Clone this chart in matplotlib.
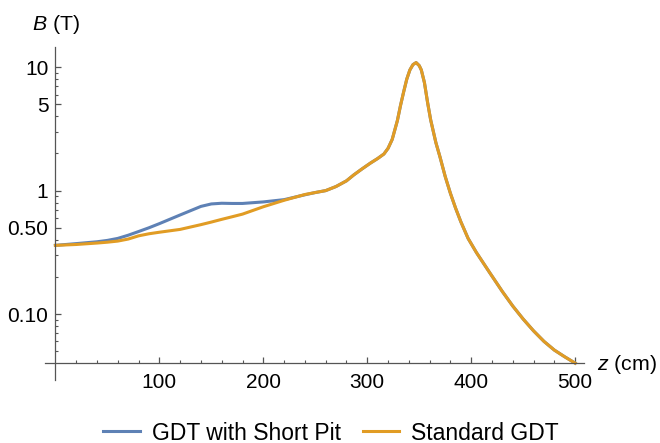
import matplotlib.pyplot as plt
import matplotlib.ticker as mticker

plt.rcParams['font.family'] = ['Liberation Sans', 'DejaVu Sans']
plt.rcParams['mathtext.fontset'] = 'custom'
plt.rcParams['mathtext.rm'] = 'Liberation Sans'
plt.rcParams['mathtext.it'] = 'Liberation Sans:italic'

# low-field part, differs between the two configurations
z_low = [0, 20, 40, 50, 60, 70, 80, 90, 100, 120, 140, 150, 160, 170, 180, 200, 220, 240]
b_pit_low = [0.36, 0.372, 0.385, 0.395, 0.41, 0.435, 0.466, 0.50, 0.54, 0.635, 0.745, 0.78, 0.79,
             0.787, 0.787, 0.81, 0.845, 0.925]
b_std_low = [0.36, 0.366, 0.376, 0.382, 0.39, 0.405, 0.43, 0.447, 0.46, 0.485, 0.53, 0.556, 0.585,
             0.614, 0.645, 0.74, 0.835, 0.93]

# common part (mirror peak and expander)
z_tail = [250, 260, 270, 280, 287, 295, 303, 310, 316, 320, 324, 329, 332, 335, 338, 341, 344,
          347, 350, 352, 355, 358, 361, 366, 370, 375, 380, 385, 390, 397, 405, 418, 430,
          440, 450, 460, 470, 480, 490, 500]
b_tail = [0.965, 1.0, 1.08, 1.2, 1.34, 1.5, 1.67, 1.82, 1.98, 2.2, 2.6, 3.7, 4.9, 6.3, 8.0, 9.5, 10.5,
          10.9, 10.3, 9.5, 7.5, 5.2, 3.74, 2.45, 1.87, 1.3, 0.95, 0.72, 0.56, 0.41, 0.315, 0.215, 0.152,
          0.116, 0.091, 0.073, 0.060, 0.051, 0.045, 0.040]

z_all = z_low + z_tail
b_pit = b_pit_low + b_tail
b_std = b_std_low + b_tail

fig = plt.figure(figsize=(6.6, 4.43), dpi=100)
ax = fig.add_axes([45/660, 1 - 380/443, 539/660, 332.7/443])

ax.plot(z_all, b_pit, color='#5E81B5', lw=2.2, label='GDT with Short Pit')
ax.plot(z_all, b_std, color='#E19C24', lw=2.2, label='Standard GDT')

ax.set_yscale('log')
ax.set_xlim(-10, 508.5)
ax.set_ylim(0.0292, 14.5)

ax.spines['top'].set_visible(False)
ax.spines['right'].set_visible(False)
ax.spines['left'].set_position(('data', 0))
ax.spines['bottom'].set_position(('data', 0.04))
for s in ['left', 'bottom']:
    ax.spines[s].set_color('#555555')
    ax.spines[s].set_linewidth(0.9)

ax.set_xticks([100, 200, 300, 400, 500])
ax.xaxis.set_minor_locator(mticker.FixedLocator([v for v in range(20, 501, 20) if v % 100]))
ax.set_yticks([0.1, 0.5, 1, 5, 10])
ax.set_yticklabels(['0.10', '0.50', '1', '5', '10'])
ymin = [0.05, 0.06, 0.07, 0.08, 0.09, 0.2, 0.3, 0.4, 0.6, 0.7, 0.8, 0.9,
        2, 3, 4, 6, 7, 8, 9]
ax.yaxis.set_minor_locator(mticker.FixedLocator(ymin))
ax.yaxis.set_minor_formatter(mticker.NullFormatter())

ax.tick_params(which='both', direction='in', color='#555555', labelsize=15)
ax.tick_params(which='major', length=4.5, width=0.9)
ax.tick_params(which='minor', length=2.5, width=0.8)
ax.tick_params(axis='x', pad=7)
ax.tick_params(axis='y', pad=5)

fig.text(32/660, 1 - 24/443, '$B$ (T)', fontsize=15.3, va='center', ha='left')
fig.text(597/660, 1 - 365/443, '$z$ (cm)', fontsize=15.3, va='center', ha='left')

fig.legend(loc='center', bbox_to_anchor=(331/660, 1 - 433/443), ncol=2, frameon=False,
           fontsize=16.5, handlelength=1.6, handletextpad=0.52, columnspacing=0.96)

fig.savefig('out.png', dpi=100)
